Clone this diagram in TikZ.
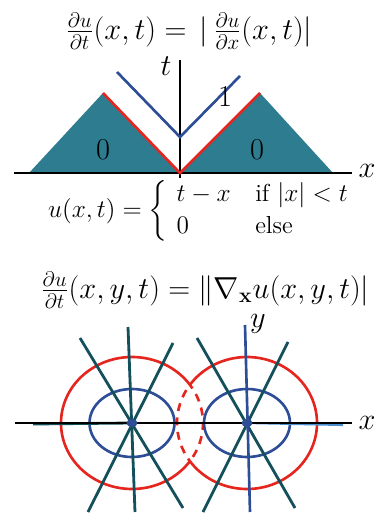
\documentclass[tikz,border=0pt]{standalone}
\usepackage{amsmath}
\definecolor{tealfill}{HTML}{2E7C8F}
\definecolor{myred}{HTML}{E5261F}
\definecolor{myblue}{HTML}{2D4E96}
\definecolor{rayteal}{HTML}{13505C}
\definecolor{lightblue}{HTML}{4A8FD0}
\begin{document}
\begin{tikzpicture}[x=0.2mm,y=-0.2mm,
  axis/.style={black,line width=1.4pt},
  redline/.style={myred,line width=1.5pt},
  blueline/.style={myblue,line width=1.5pt},
  ray/.style={rayteal,line width=1.6pt},
  lbl/.style={inner sep=0pt,font=\fontsize{17}{20}\selectfont},
  formula/.style={inner sep=0pt,font=\fontsize{17}{20}\selectfont}]
\useasboundingbox (0,0) rectangle (375,515);
% ---------- top figure ----------
\node[formula,font=\fontsize{16.7}{20}\selectfont] (title1) at (189,31)
  {$\frac{\partial u}{\partial t}(x,t)=\,|\,\frac{\partial u}{\partial x}(x,t)|$};
\coordinate (O) at (180,173);
\coordinate (LL) at (29,173);
\coordinate (LT) at (103,93);
\coordinate (RT) at (260,93);
\coordinate (RR) at (333,173);
\fill[tealfill] (LL) -- (LT) -- (O) -- cycle;
\fill[tealfill] (O) -- (RT) -- (RR) -- cycle;
\coordinate (xa0) at (14,173);
\coordinate (xa1) at (352,173);
\coordinate (ta0) at (180,60);
\coordinate (ta1) at (180,178);
\draw[axis] (xa0) -- (xa1);
\draw[axis] (ta0) -- (ta1);
\draw[redline,line join=miter] (LT) -- (O) -- (RT);
\coordinate (B0) at (117,72);
\coordinate (B1) at (180,137);
\coordinate (B2) at (240,76);
\draw[blueline] (B0) -- (B1) -- (B2);
\node[lbl] (xlab1) at (367,171) {$x$};
\node[lbl] (tlab) at (166,66) {$t$};
\node[lbl] (one) at (225,97) {$1$};
\node[lbl] (zeroL) at (103,150) {$0$};
\node[lbl] (zeroR) at (257,150) {$0$};
\node[formula,font=\fontsize{14}{18.5}\selectfont] (ufun) at (199,211)
  {$u(x,t)=\left\{\begin{array}{l@{\quad}l@{}} t-x & \text{if }|x|<t\\ 0 & \text{else}\end{array}\right.$};
% ---------- bottom figure ----------
\node[formula] (title2) at (205,290)
  {$\frac{\partial u}{\partial t}(x,y,t)=\|\nabla_{\mathbf{x}}u(x,y,t)|$};
\coordinate (L) at (132,423);
\coordinate (R) at (247,423);
% red circles
\draw[redline] ([shift={(36:14.2mm and 13.2mm)}]L) arc[start angle=36,end angle=324,x radius=14.2mm,y radius=13.2mm];
\draw[redline,dash pattern=on 1.6mm off 1.3mm,dash phase=-1.2mm] ([shift={(-36:14.2mm and 13.2mm)}]L) arc[start angle=-36,end angle=36,x radius=14.2mm,y radius=13.2mm];
\draw[redline] ([shift={(-145:14mm and 13.2mm)}]R) arc[start angle=-145,end angle=145,x radius=14mm,y radius=13.2mm];
\draw[redline,dash pattern=on 1.6mm off 1.3mm,dash phase=-1.2mm] ([shift={(145:14mm and 13.2mm)}]R) arc[start angle=145,end angle=215,x radius=14mm,y radius=13.2mm];
% blue circles
\draw[blueline] (L) ellipse[x radius=8.5mm,y radius=6.8mm];
\draw[blueline] (R) ellipse[x radius=8.6mm,y radius=6.8mm];
% horizontal rays
\coordinate (hL) at (33,424);
\coordinate (hR) at (343,425);
\draw[ray] (hL) -- (L);
\draw[lightblue,line width=1.2pt] (R) -- (hR);
% rays left
\coordinate (A0) at (80,338);  \coordinate (A1) at (183,508);
\coordinate (Bb0) at (128,327); \coordinate (Bb1) at (135,512);
\coordinate (C0) at (173,343); \coordinate (C1) at (88,512);
\draw[ray] (A0) -- (A1);
\draw[ray] (Bb0) -- (Bb1);
\draw[ray] (C0) -- (C1);
% rays right
\coordinate (D0) at (197,338); \coordinate (D1) at (295,508);
\coordinate (E0) at (288,342); \coordinate (E1) at (203,512);
\draw[ray] (D0) -- (D1);
\draw[ray] (E0) -- (E1);
\coordinate (Y0) at (245,325); \coordinate (Y1) at (250,512);
\draw[blueline] (Y0) -- (Y1);
% x axis
\coordinate (xb0) at (15,423);
\coordinate (xb1) at (352,423);
\draw[axis] (xb0) -- (xb1);
\fill[myblue] (L) ellipse[x radius=1.1mm,y radius=0.8mm];
\fill[myblue] (R) ellipse[x radius=1.1mm,y radius=0.8mm];
\node[lbl] (xlab2) at (367,423) {$x$};
\node[lbl] (ylab) at (258,324) {$y$};
\end{tikzpicture}
\end{document}
